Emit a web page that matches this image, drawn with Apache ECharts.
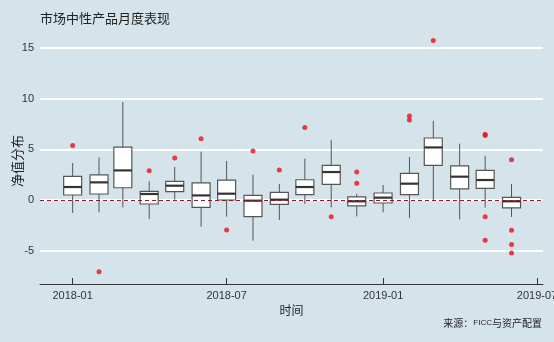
<!DOCTYPE html>
<html>
<head>
<meta charset="utf-8">
<script src="https://cdn.jsdelivr.net/npm/echarts@6/dist/echarts.min.js"></script>
<style>
  html, body { margin: 0; padding: 0; background: #d5e4eb; }
  #chart { width: 554px; height: 342px; }
</style>
</head>
<body>
<div id="chart"></div>
<script>
// 每月净值分布（箱线图数据，读自原图）
var months = ['2018-01', '2018-02', '2018-03', '2018-04', '2018-05', '2018-06',
  '2018-07', '2018-08', '2018-09', '2018-10', '2018-11', '2018-12',
  '2019-01', '2019-02', '2019-03', '2019-04', '2019-05', '2019-06'];
var lowWhisker  = [-1.28, -1.22, -0.73, -1.88, 0.03, -2.64, -1.65, -4.02, -1.97, -0.40, -0.73, -1.62, -1.22, -1.78, 0.00, -1.92, -0.76, -1.68];
var q1          = [0.49, 0.59, 1.21, -0.40, 0.82, -0.73, 0.00, -1.65, -0.43, 0.52, 1.54, -0.59, -0.30, 0.52, 3.42, 1.09, 1.15, -0.79];
var medians     = [1.28, 1.74, 2.92, 0.59, 1.41, 0.45, 0.62, -0.07, 0.03, 1.28, 2.76, -0.13, 0.23, 1.61, 5.19, 2.30, 1.97, -0.13];
var q3          = [2.33, 2.47, 5.23, 0.85, 1.84, 1.68, 1.97, 0.45, 0.75, 2.00, 3.42, 0.30, 0.69, 2.63, 6.12, 3.36, 2.92, 0.26];
var highWhisker = [3.65, 4.20, 9.67, 1.84, 3.26, 4.77, 3.85, 2.50, 1.58, 4.08, 5.95, 0.62, 1.48, 4.24, 7.83, 5.56, 4.37, 1.58];

// 离群点
var outlierMonths = ['2018-01', '2018-02', '2018-04', '2018-05', '2018-06', '2018-07', '2018-08', '2018-09',
  '2018-10', '2018-11', '2018-12', '2018-12', '2019-02', '2019-02', '2019-03',
  '2019-05', '2019-05', '2019-05', '2019-05', '2019-06', '2019-06', '2019-06', '2019-06'];
var outlierValues = [5.39, -7.10, 2.89, 4.14, 6.05, -2.96, 4.84, 2.96,
  7.17, -1.65, 2.76, 1.64, 8.29, 7.90, 15.76,
  6.50, 6.38, -1.65, -3.99, 3.98, -3.00, -4.41, -5.23];

var xTickLabels = ['2018-01', '2018-07', '2019-01', '2019-07'];

function monthTime(m) {
  var p = m.split('-');
  return Date.UTC(+p[0], +p[1] - 1, 1);
}

var boxData = months.map(function (m, i) {
  return [monthTime(m), lowWhisker[i], q1[i], medians[i], q3[i], highWhisker[i]];
});
var outlierData = outlierMonths.map(function (m, i) {
  return [monthTime(m), outlierValues[i]];
});

var boxW = 18;

function renderBox(params, api) {
  var x = api.value(0);
  var lo = api.coord([x, api.value(1)]);
  var b1 = api.coord([x, api.value(2)]);
  var md = api.coord([x, api.value(3)]);
  var b3 = api.coord([x, api.value(4)]);
  var hi = api.coord([x, api.value(5)]);
  return {
    type: 'group',
    children: [
      { type: 'line', shape: { x1: lo[0], y1: lo[1], x2: b1[0], y2: b1[1] }, style: { stroke: '#555', lineWidth: 1 } },
      { type: 'line', shape: { x1: b3[0], y1: b3[1], x2: hi[0], y2: hi[1] }, style: { stroke: '#555', lineWidth: 1 } },
      { type: 'rect', shape: { x: b3[0] - boxW / 2, y: b3[1], width: boxW, height: b1[1] - b3[1] },
        style: { fill: '#fff', stroke: '#555', lineWidth: 1.2 } },
      { type: 'line', shape: { x1: md[0] - boxW / 2, y1: md[1], x2: md[0] + boxW / 2, y2: md[1] },
        style: { stroke: '#333', lineWidth: 2.2 } }
    ]
  };
}

var DAY = 86400000;
var latinCjk = '"Liberation Sans", "Noto Sans CJK SC", sans-serif';
var myChart = echarts.init(document.getElementById('chart'));
myChart.setOption({
  backgroundColor: '#d5e4eb',
  animation: false,
  textStyle: { fontFamily: latinCjk },
  title: {
    text: '市场中性产品月度表现',
    left: 35,
    top: 8,
    textStyle: { fontSize: 13, fontWeight: 'normal', color: '#222', fontFamily: latinCjk }
  },
  grid: { left: 40, right: 11, top: 38, bottom: 58, outerBoundsMode: 'none' },
  xAxis: {
    type: 'value',
    min: Date.UTC(2018, 0, 1) - 38.4 * DAY,
    max: Date.UTC(2019, 6, 1) + 7 * DAY,
    name: '时间',
    nameLocation: 'middle',
    nameGap: 20,
    nameTextStyle: { fontSize: 12, color: '#222' },
    axisLine: { onZero: false, lineStyle: { color: '#333', width: 1 } },
    axisTick: {
      inside: true,
      length: 6,
      lineStyle: { color: '#333' },
      customValues: xTickLabels.map(monthTime)
    },
    axisLabel: {
      fontSize: 11,
      color: '#333',
      margin: 6,
      customValues: xTickLabels.map(monthTime),
      formatter: function (v) {
        var d = new Date(v);
        var mm = d.getUTCMonth() + 1;
        return d.getUTCFullYear() + '-' + (mm < 10 ? '0' + mm : mm);
      }
    },
    splitLine: { show: false }
  },
  yAxis: {
    type: 'value',
    min: -8.3,
    max: 16,
    name: '净值分布',
    nameLocation: 'middle',
    nameRotate: 90,
    nameGap: 15,
    nameMoveOverlap: false,
    nameTextStyle: { fontSize: 13, color: '#222' },
    axisLine: { show: false },
    axisTick: { show: false },
    axisLabel: { fontSize: 11, color: '#333', margin: 6, showMinLabel: false, showMaxLabel: false },
    splitLine: { show: true, showMinLine: false, showMaxLine: false, lineStyle: { color: '#fff', width: 2 } }
  },
  graphic: [{
    type: 'text',
    right: 12,
    top: 318,
    style: {
      text: '来源：{s|FICC}与资产配置',
      fontSize: 10,
      fill: '#222',
      fontFamily: '"Noto Sans CJK SC", sans-serif',
      rich: { s: { fontSize: 8, fontFamily: '"Liberation Sans", sans-serif', fill: '#222' } }
    }
  }],
  series: [
    {
      type: 'custom',
      renderItem: renderBox,
      data: boxData,
      encode: { x: 0, y: [1, 2, 3, 4, 5] },
      z: 2
    },
    {
      type: 'scatter',
      data: outlierData,
      symbolSize: 5,
      itemStyle: { color: '#e8101a' },
      z: 4,
      markLine: {
        silent: true,
        symbol: 'none',
        label: { show: false },
        lineStyle: { color: '#8b1a2a', type: [4, 3], width: 1 },
        data: [{ yAxis: 0 }]
      }
    }
  ]
});
</script>
</body>
</html>
